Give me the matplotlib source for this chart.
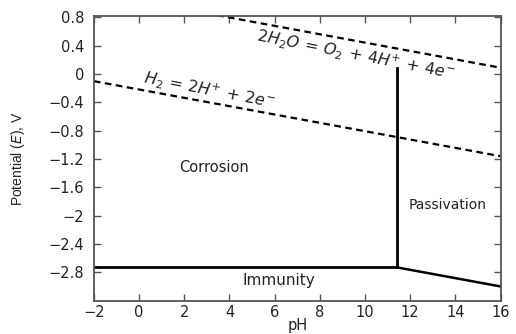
import numpy as np
import matplotlib
matplotlib.use('Agg')
import matplotlib.pyplot as plt

plt.rcParams['font.family'] = ['DejaVu Sans']
plt.rcParams['mathtext.fontset'] = 'dejavusans'

# boundaries
ph_range = [-2, 16]
h2_line = [-0.1, -1.16]          # E at pH -2 and 16
o2_line = [1.154, 0.09]          # E at pH -2 and 16
immunity_ph = [-2, 11.4]
immunity_e = [-2.73, -2.73]
passive_ph = [11.4, 11.4]
passive_e = [-2.73, 0.08]
slope_ph = [11.4, 16]
slope_e = [-2.73, -3.0]

xticks = [-2, 0, 2, 4, 6, 8, 10, 12, 14, 16]
yticks = [0.8, 0.4, 0, -0.4, -0.8, -1.2, -1.6, -2, -2.4, -2.8]
ytick_labels = ['0.8', '0.4', '0', '\u22120.4', '\u22120.8', '\u22121.2', '\u22121.6', '\u22122', '\u22122.4', '\u22122.8']
xtick_labels = ['\u22122', '0', '2', '4', '6', '8', '10', '12', '14', '16']

fig = plt.figure(figsize=(5.16, 3.34), dpi=100)
ax = fig.add_axes([0.182, 0.1, 0.788, 0.852])

ax.plot(ph_range, h2_line, color='black', ls=(0, (3, 2)), lw=1.6)
ax.plot(ph_range, o2_line, color='black', ls=(0, (3, 2)), lw=1.6)
ax.plot(immunity_ph, immunity_e, color='black', lw=2)
ax.plot(passive_ph, passive_e, color='black', lw=2)
ax.plot(slope_ph, slope_e, color='black', lw=1.8)

ax.text(9.6, 0.28, r'$2H_2O\,=\,O_2\,+\,4H^{+}\,+\,4e^{-}$', rotation=-11,
        ha='center', va='center', fontsize=11.5, color='#222222')
ax.text(3.1, -0.22, r'$H_2\,=\,2H^{+}\,+\,2e^{-}$', rotation=-11,
        ha='center', va='center', fontsize=11.5, color='#222222')
ax.text(3.3, -1.32, 'Corrosion', ha='center', va='center', fontsize=10.5, color='#222222')
ax.text(13.65, -1.85, 'Passivation', ha='center', va='center', fontsize=10, color='#222222')
ax.text(6.2, -2.91, 'Immunity', ha='center', va='center', fontsize=11, color='#222222')

ax.set_xlim(-2, 16)
ax.set_ylim(-3.2, 0.82)
ax.set_xticks(xticks)
ax.set_xticklabels(xtick_labels)
ax.set_yticks(yticks)
ax.set_yticklabels(ytick_labels)
ax.tick_params(direction='in', top=True, right=True, length=5, width=1,
               labelsize=10.5, colors='#555555', labelcolor='#222222')
ax.tick_params(axis='y', pad=7)
ax.tick_params(axis='x', pad=3.5)
for s in ax.spines.values():
    s.set_linewidth(1.3)
    s.set_color('#555555')

ax.set_xlabel('pH', fontsize=10.5, color='#222222')
ax.xaxis.set_label_coords(0.5, -0.06)
ax.set_ylabel(r'Potential ($E$), V', fontsize=10, color='#222222',
              family='Liberation Sans')
ax.yaxis.set_label_coords(-0.165, 0.5)

fig.savefig('out.png', dpi=100)
